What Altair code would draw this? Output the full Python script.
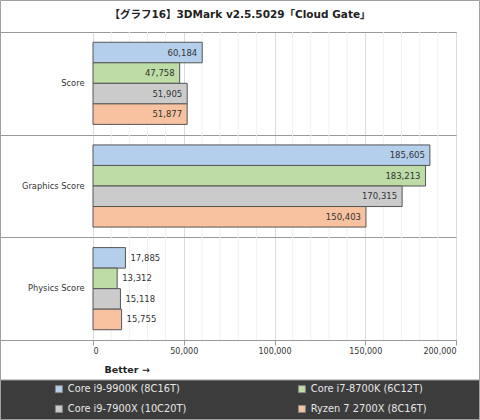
import altair as alt
import pandas as pd

tests = ["Score", "Graphics Score", "Physics Score"]
cpus = ["Core i9-9900K (8C16T)", "Core i7-8700K (6C12T)",
        "Core i9-7900X (10C20T)", "Ryzen 7 2700X (8C16T)"]
scores = {
    "Core i9-9900K (8C16T)": [60184, 185605, 17885],
    "Core i7-8700K (6C12T)": [47758, 183213, 13312],
    "Core i9-7900X (10C20T)": [51905, 170315, 15118],
    "Ryzen 7 2700X (8C16T)": [51877, 150403, 15755],
}
cpu_colors = {
    "Core i9-9900K (8C16T)": "#b4cfec",
    "Core i7-8700K (6C12T)": "#bedca6",
    "Core i9-7900X (10C20T)": "#cbcbcb",
    "Ryzen 7 2700X (8C16T)": "#f8c2a0",
}
# legend is filled column by column: this order gives the reference's 2x2 layout
legend_order = ["Core i9-9900K (8C16T)", "Core i9-7900X (10C20T)",
                "Core i7-8700K (6C12T)", "Ryzen 7 2700X (8C16T)"]
major_ticks = [0, 50000, 100000, 150000, 200000]
minor_ticks = [v for v in range(10000, 200000, 10000) if v % 50000]
title_text = "【グラフ16】3DMark v2.5.5029「Cloud Gate」"

FONT = "DejaVu Sans, Noto Sans CJK JP"

rows = []
for c in cpus:
    for t, v in zip(tests, scores[c]):
        rows.append({"test": t, "cpu": c, "value": v, "inside": v > 30000})
df = pd.DataFrame(rows)
minor_df = pd.DataFrame({"value": minor_ticks})
one = pd.DataFrame({"k": [0]})

x_enc = alt.X(
    "value:Q",
    scale=alt.Scale(domain=[0, 200000], nice=False),
    axis=alt.Axis(
        values=major_ticks, labelExpr="format(datum.value, ',')", title="Better →",
        grid=True, gridColor="#dcdcdc", domain=False,
        tickColor="#999", tickSize=5, labelFontSize=8, labelColor="#333",
        labelFont=FONT, titleFont=FONT, titleFontSize=9.5, titleFontWeight="bold",
        titleColor="#222", titleX=11, titleY=32, titleAlign="left",
        titleBaseline="alphabetic",
    ),
)
y_enc = alt.Y(
    "test:N", sort=tests,
    scale=alt.Scale(paddingInner=0, paddingOuter=0),
    axis=alt.Axis(
        title=None, tickBand="extent", tickSize=93, tickColor="#999",
        grid=True, gridColor="#999", domain=False, labelPadding=-84,
        labelFontSize=8.3, labelColor="#333", labelFont=FONT,
    ),
)
yo_enc = alt.YOffset("cpu:N", sort=cpus,
                     scale=alt.Scale(paddingInner=0, paddingOuter=0.5))

minor = alt.Chart(minor_df).mark_rule(color="#f0f0f0", strokeWidth=1).encode(x=x_enc)

band = alt.Chart(one).mark_rect(fill="#3c3c3c", stroke="#999").encode(
    x=alt.value(-93), x2=alt.value(387), y=alt.value(348), y2=alt.value(388))
frame = alt.Chart(one).mark_rect(fillOpacity=0, stroke="#a0a0a0").encode(
    x=alt.value(-92.5), x2=alt.value(386.5), y=alt.value(-31.5), y2=alt.value(387.5))
title = alt.Chart(one).mark_text(
    align="center", baseline="middle", fontSize=10.5, font=FONT,
    fontWeight="bold", color="#222").encode(
    x=alt.value(147), y=alt.value(-17), text=alt.value(title_text))

bars = alt.Chart(df).mark_bar(stroke="#555", strokeWidth=1).encode(
    x=x_enc, y=y_enc, yOffset=yo_enc,
    color=alt.Color("cpu:N", sort=legend_order,
                    scale=alt.Scale(domain=legend_order,
                                    range=[cpu_colors[c] for c in legend_order]),
                    legend=alt.Legend(
                        title=None, orient="none", legendX=-39, legendY=352,
                        columns=2, columnPadding=109, rowPadding=8,
                        symbolType="square", symbolSize=49,
                        symbolStrokeColor="#888", symbolStrokeWidth=1,
                        symbolOpacity=1, labelColor="#e6e6e6",
                        labelFontSize=9.8, labelFont=FONT, labelOffset=4,
                    )),
)
text_in = alt.Chart(df).transform_filter("datum.inside").mark_text(
    align="right", dx=-5, fontSize=8.5, color="#333", font=FONT).encode(
    x=x_enc, y=y_enc, yOffset=yo_enc, text=alt.Text("value:Q", format=","))
text_out = alt.Chart(df).transform_filter("!datum.inside").mark_text(
    align="left", dx=5, fontSize=8.5, color="#333", font=FONT).encode(
    x=x_enc, y=y_enc, yOffset=yo_enc, text=alt.Text("value:Q", format=","))

chart = alt.layer(minor, bars, text_in, text_out, band, frame, title).properties(
    width=363, height=308,
    autosize=alt.AutoSizeParams(type="none"),
    padding={"left": 93, "top": 32, "right": 24, "bottom": 80},
    background="white",
).configure_view(stroke="#999")

chart.save("out.html", embed_options={"renderer": "svg", "actions": False})
